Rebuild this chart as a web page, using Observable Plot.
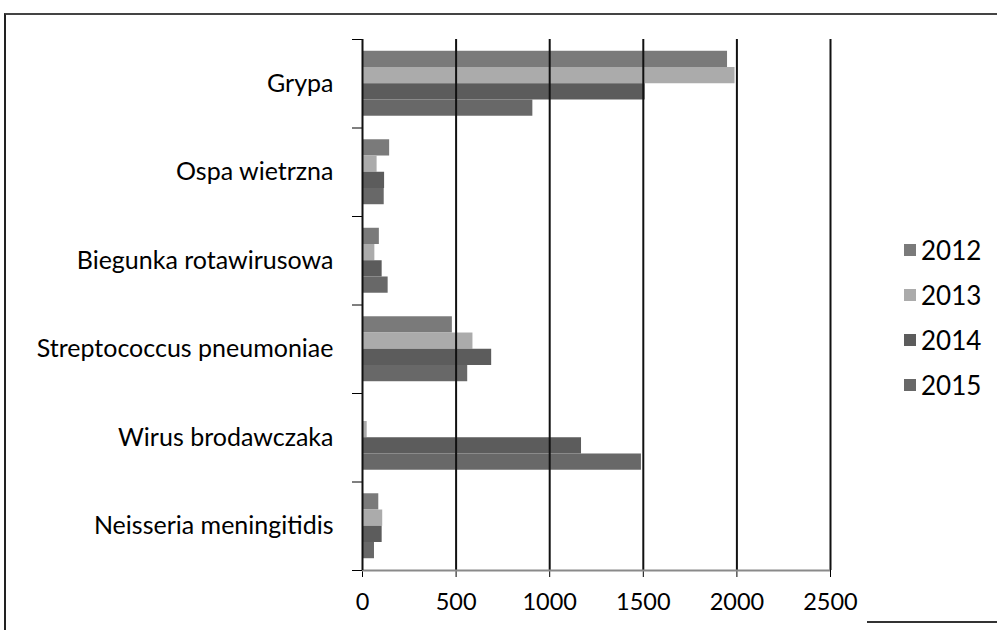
<!DOCTYPE html>
<html>
<head>
<meta charset="utf-8">
<script src="https://cdn.jsdelivr.net/npm/d3@7"></script>
<script src="https://cdn.jsdelivr.net/npm/@observablehq/plot@0.6"></script>
<style>
  html, body { margin: 0; padding: 0; background: #fff; }
  #wrap { position: relative; width: 997px; height: 630px; overflow: hidden; font-family: Lato, "Open Sans", sans-serif; }
  #frame { position: absolute; left: 4px; top: 13px; width: 1000px; height: 640px; border-left: 2px solid #222; border-top: 2px solid #444; box-sizing: border-box; }
  #cut { position: absolute; left: 867px; top: 621px; width: 130px; height: 0; border-top: 2px solid #333; }
  #chart { position: absolute; left: 0; top: 0; }
  #legend { position: absolute; left: 904px; top: 0; }
  .item { position: absolute; left: 0; display: flex; align-items: center; white-space: nowrap; }
  .sw { width: 12px; height: 12px; margin-right: 5px; }
  .lab { font-size: 26px; color: #000; line-height: 1; }
</style>
</head>
<body>
<div id="wrap">
  <div id="frame"></div>
  <div id="cut"></div>
  <div id="chart"></div>
  <div id="legend"></div>
</div>
<script>
// ---- data ----
const categories = ["Grypa", "Ospa wietrzna", "Biegunka rotawirusowa", "Streptococcus pneumoniae", "Wirus brodawczaka", "Neisseria meningitidis"];
const years = ["2012", "2013", "2014", "2015"];
const v2012 = [1950, 145, 90, 480, 0, 87];
const v2013 = [1990, 78, 66, 590, 25, 108];
const v2014 = [1510, 118, 105, 690, 1170, 105];
const v2015 = [910, 116, 137, 562, 1490, 64];
const xTicks = [0, 500, 1000, 1500, 2000, 2500];
const colors = ["#7a7a7a", "#ababab", "#5c5c5c", "#686868"];

// ---- layout of bars within each category band ----
const series = [v2012, v2013, v2014, v2015];
const barFrac = 0.1835;                              // each year's share of a category band
const padFrac = (1 - barFrac * years.length) / 2;    // empty space above/below a group
const rows = categories.flatMap((c, ci) => years.map((yr, yi) => ({
  category: c, year: yr, value: series[yi][ci],
  y1: ci + padFrac + yi * barFrac,
  y2: ci + padFrac + (yi + 1) * barFrac
})));
const catIdx = categories.map((c, i) => ({category: c, mid: i + 0.5}));
const bounds = d3.range(categories.length + 1);

const chart = Plot.plot({
  width: 997,
  height: 630,
  marginLeft: 362,
  marginRight: 167,
  marginTop: 39,
  marginBottom: 60,
  style: {fontFamily: "Lato, 'Open Sans', sans-serif", fontSize: "23.5px", color: "#000", background: "transparent", overflow: "visible"},
  x: {type: "linear", domain: [0, 2500], ticks: xTicks, tickSize: 7, tickPadding: 16, tickFormat: d => String(d), label: null},
  y: {type: "linear", domain: [0, categories.length], reverse: true, ticks: bounds, tickSize: 10, tickFormat: () => "", label: null},
  color: {domain: years, range: colors},
  marks: [
    Plot.rect(rows, {x1: 0, x2: "value", y1: "y1", y2: "y2", fill: "year"}),
    Plot.ruleX(xTicks.filter(d => d > 0), {stroke: "#111", strokeWidth: 2}),
    Plot.ruleY([categories.length], {stroke: "#8a8a8a", strokeWidth: 2}),
    Plot.ruleX([0], {stroke: "#111", strokeWidth: 2}),
    Plot.text(catIdx, {x: 0, y: "mid", text: "category", textAnchor: "end", dx: -29, fontSize: 25, fill: "#000"})
  ]
});
document.getElementById("chart").appendChild(chart);

// ---- legend ----
const legend = document.getElementById("legend");
const legendTops = [250, 295, 340, 385];
years.forEach((yr, i) => {
  const item = document.createElement("div");
  item.className = "item";
  item.style.top = (legendTops[i] - 13) + "px";
  item.innerHTML = `<span class="sw" style="background:${colors[i]}"></span><span class="lab">${yr}</span>`;
  legend.appendChild(item);
});
</script>
</body>
</html>
